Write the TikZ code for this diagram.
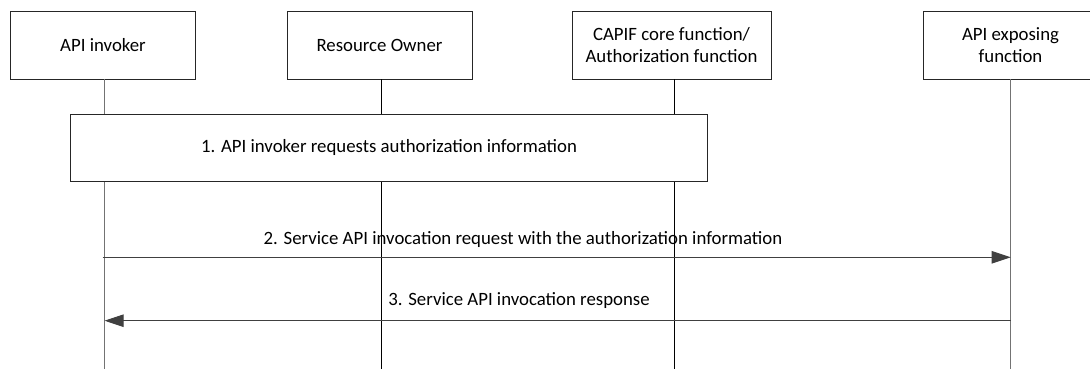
\documentclass[tikz,border=0pt]{standalone}
\usepackage{fontspec}
\setmainfont{Carlito}
\usetikzlibrary{arrows.meta}
\begin{document}
\begin{tikzpicture}[x=1pt,y=-1pt,
  lbl/.style={font=\fontsize{18.8}{22.5}\selectfont, inner sep=0pt},
  entity/.style={lbl, draw=black!85, line width=0.8pt, fill=white, minimum height=68pt, align=center},
  stepbox/.style={lbl, draw=black!85, line width=0.8pt, fill=white, minimum width=637pt, minimum height=67pt},
  lifeA/.style={draw=black!55, line width=1.2pt},
  lifeB/.style={draw=black, line width=0.8pt},
  msg/.style={draw=black!70, line width=0.9pt, -{Triangle[length=19pt,width=12.5pt]}, color=black!75}]
\useasboundingbox (0,0) rectangle (1090,369);
\begin{scope}
\clip (0,0) rectangle (1090,369);
% lifeline bottoms
\coordinate (invb) at (104.6,369);
\coordinate (ownb) at (381.6,369);
\coordinate (capb) at (674.6,369);
\coordinate (expb) at (1010.7,369);
% entities
\node[entity, minimum width=185pt] (inv) at (103,45) {API invoker};
\node[entity, minimum width=185pt] (own) at (379.5,45) {Resource Owner};
\node[entity, minimum width=199pt] (cap) at (671.5,45) {CAPIF core function/\\Authorization function};
\node[entity, minimum width=175pt] (exp) at (1010.5,45) {API exposing\\function};
% lifelines
\draw[lifeA] (inv.south -| invb) -- (invb);
\draw[lifeB] (own.south -| ownb) -- (ownb);
\draw[lifeB] (cap.south -| capb) -- (capb);
\draw[lifeA] (exp.south -| expb) -- (expb);
% step 1
\node[stepbox] (s1) at (389,147.5) {1. API invoker requests authorization information};
% messages
\coordinate (m2s) at (102.7,257.3);
\coordinate (m2e) at (m2s -| expb);
\coordinate (m3s) at (1010.7,320.7);
\coordinate (m3e) at (m3s -| invb);
\draw[msg] (m2s) -- (m2e);
\draw[msg] (m3s) -- (m3e);
\node[lbl] (t2) at (523,239) {2. Service API invocation request with the authorization information};
\node[lbl] (t3) at (519,301) {3. Service API invocation response};
\end{scope}
\end{tikzpicture}
\end{document}
